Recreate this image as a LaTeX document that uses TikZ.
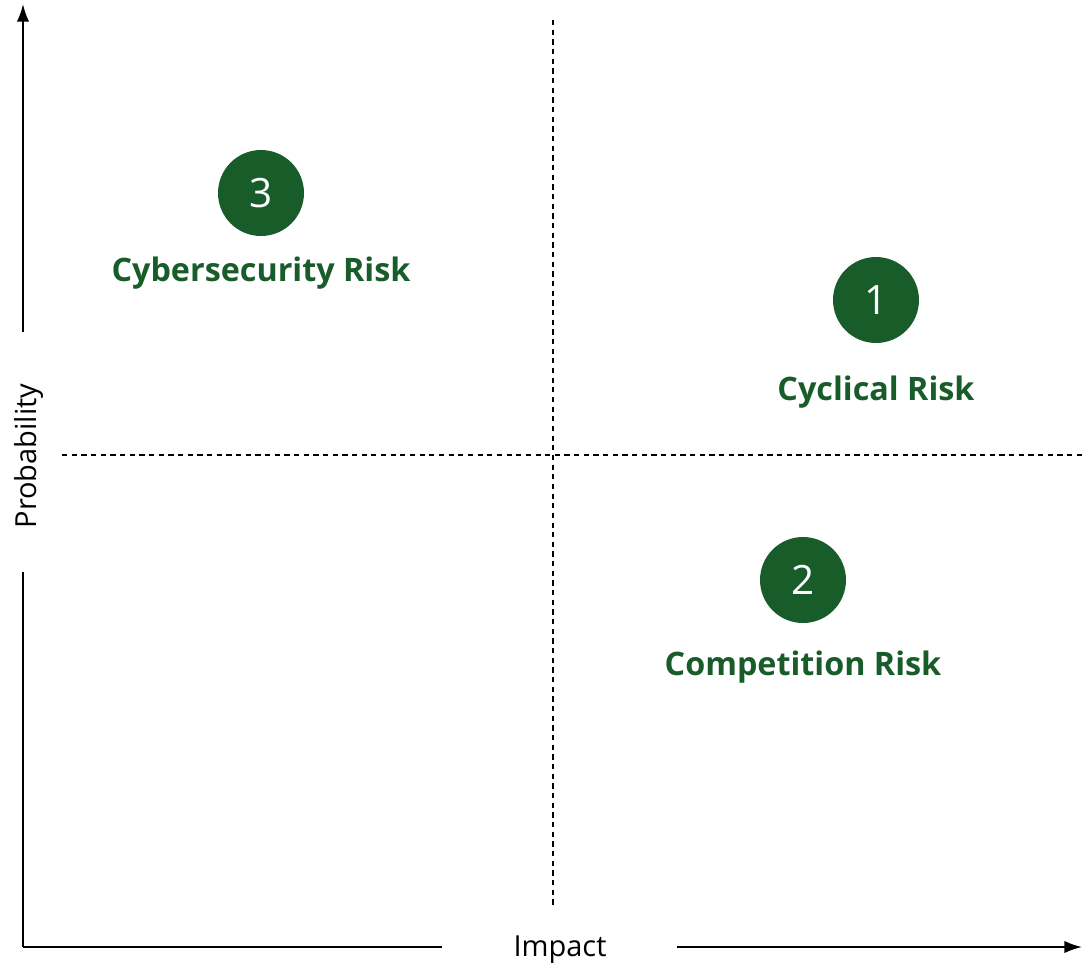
\documentclass[tikz,border=0pt]{standalone}
\usepackage{fontspec}
\setmainfont{Open Sans}
\usetikzlibrary{arrows.meta, positioning}
\definecolor{riskgreen}{RGB}{24,92,42}

\begin{document}
\begin{tikzpicture}[x=0.02cm, y=-0.02cm,
        risk/.style={circle, fill=riskgreen, minimum size=1.72cm, inner sep=0pt, text=white, font=\fontsize{23}{23}\selectfont},
        risklabel/.style={inner sep=0pt, text=riskgreen, font=\fontsize{18.4}{18.4}\selectfont\bfseries},
        axislabel/.style={inner sep=0pt, font=\fontsize{16.5}{16.5}\selectfont},
        axis/.style={line width=1.1pt},
        tip/.style={-{Latex[length=10pt, width=7pt]}},
        quadrant/.style={line width=0.6pt, dash pattern=on 3pt off 2.5pt}
    ]
        \useasboundingbox (0,0) rectangle (1082,965);

        % Axes, broken around their labels
        \coordinate (origin) at (23,947);
        \coordinate (ytop) at (23,4);
        \coordinate (xend) at (1082,947);
        \coordinate (ybreaklo) at (23,572);
        \coordinate (ybreakhi) at (23,332);
        \coordinate (xbreaklo) at (442,947);
        \coordinate (xbreakhi) at (677,947);
        \node[axislabel, rotate=90] (ylab) at (29,456) {Probability};
        \node[axislabel] (xlab) at (560,950) {Impact};
        \draw[axis] (origin) -- (ybreaklo);
        \draw[axis, tip] (ybreakhi) -- (ytop);
        \draw[axis] (origin) -- (xbreaklo);
        \draw[axis, tip] (xbreakhi) -- (xend);

        % Quadrant lines
        \coordinate (vtop) at (553,20);
        \coordinate (vbot) at (553,905);
        \coordinate (hleft) at (62,455);
        \coordinate (hright) at (1082,455);
        \draw[quadrant] (vtop) -- (vbot);
        \draw[quadrant] (hleft) -- (hright);

        % Risks
        \node[risk] (r1) at (876,300) {1};
        \node[risk] (r2) at (803,580) {2};
        \node[risk] (r3) at (261,193) {3};
        \node[risklabel, below=0.64cm of r1] (l1) {Cyclical Risk};
        \node[risklabel, below=0.55cm of r2] (l2) {Competition Risk};
        \node[risklabel, below=0.4cm of r3] (l3) {Cybersecurity Risk};
    \end{tikzpicture}
\end{document}
